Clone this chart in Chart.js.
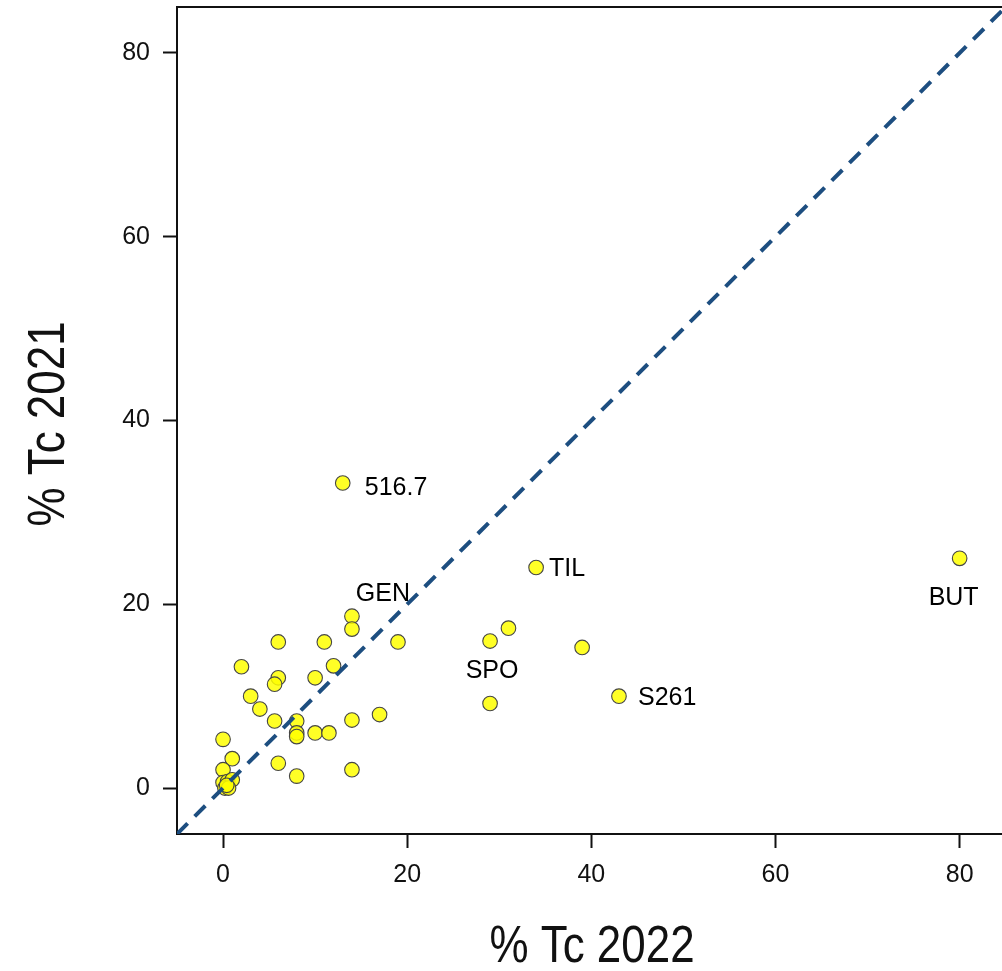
<!DOCTYPE html>
<html>
<head>
<meta charset="utf-8">
<title>% Tc 2022 vs 2021</title>
<script src="https://cdn.jsdelivr.net/npm/chart.js@4.4.1/dist/chart.umd.min.js"></script>
<style>
  body { margin: 0; background: #ffffff; }
  #wrap { width: 1002px; height: 971px; }
</style>
</head>
<body>
<div id="wrap"><canvas id="myTcChart" width="1002" height="971"></canvas></div>
<script>
  "use strict";

  // point names ("" = no label)
  var names = ["516.7", "TIL", "BUT", "SPO", "S261", "GEN",
    "", "", "", "", "", "", "", "", "", "", "", "", "", "", "", "", "", "", "", "", "", "", "", "", "", "", "", "",
    "", "", "", "", "", ""];
  // % Tc 2022 (x)
  var tc2022 = [13, 34, 80, 29, 43, 14,
    31, 39, 29, 14, 6, 11, 19, 2, 12, 6, 5.6, 10, 3, 4, 5.6, 8, 8, 8, 10, 11.5, 14, 17, 0, 1, 0, 6, 8, 14,
    0, 0.5, 1, 0.2, 0.6, 0.4];
  // % Tc 2021 (y)
  var tc2021 = [33.2, 24, 25, 16, 10, 18.7,
    17.4, 15.3, 9.2, 17.3, 15.9, 15.9, 15.9, 13.2, 13.3, 12, 11.3, 12, 10, 8.6, 7.3, 7.3, 6, 5.6, 6, 6, 7.4, 8, 5.3, 3.2, 2, 2.7, 1.3, 2,
    0.6, 0.7, 0.9, 0, 0, 0.3];

  var tickValues = [0, 20, 40, 60, 80];
  var identityLine = [-5, 85];
  var xTitle = "% Tc 2022";
  var yTitle = "% Tc 2021";

  var points = tc2022.map(function (x, i) {
    return { x: x, y: tc2021[i], name: names[i] };
  });

  // where each label sits relative to its point
  var labelPos = {
    "516.7": { dx: 22, dy: 5, align: "left" },
    "TIL": { dx: 13, dy: 2, align: "left" },
    "BUT": { dx: -6, dy: 40, align: "center" },
    "SPO": { dx: 2, dy: 30, align: "center" },
    "S261": { dx: 19, dy: 2, align: "left" },
    "GEN": { dx: 31, dy: -22, align: "center" }
  };

  var pointLabels = {
    id: "pointLabels",
    afterDatasetsDraw: function (chart) {
      var ctx = chart.ctx;
      var meta = chart.getDatasetMeta(1);
      ctx.save();
      ctx.font = "25px 'Liberation Sans', Arial, sans-serif";
      ctx.fillStyle = "#000000";
      ctx.textBaseline = "middle";
      meta.data.forEach(function (el, i) {
        var name = points[i].name;
        if (!name) return;
        var p = labelPos[name];
        ctx.textAlign = p.align;
        ctx.fillText(name, el.x + p.dx, el.y + p.dy);
      });
      ctx.restore();
    }
  };

  // top edge of the box + the condensed axis titles
  var frameAndTitles = {
    id: "frameAndTitles",
    afterDraw: function (chart) {
      var a = chart.chartArea;
      var ctx = chart.ctx;
      ctx.save();
      ctx.strokeStyle = "#111111";
      ctx.lineWidth = 2;
      ctx.beginPath();
      ctx.moveTo(a.left - 1, a.top);
      ctx.lineTo(a.right, a.top);
      ctx.stroke();

      ctx.fillStyle = "#111111";
      ctx.font = "52px 'Liberation Sans', Arial, sans-serif";
      ctx.textAlign = "center";
      ctx.textBaseline = "alphabetic";

      ctx.save();
      ctx.translate(592, 962);
      ctx.scale(0.845, 1);
      ctx.fillText(xTitle, 0, 0);
      ctx.restore();

      ctx.save();
      ctx.translate(64, 424);
      ctx.rotate(-Math.PI / 2);
      ctx.scale(0.845, 1);
      ctx.fillText(yTitle, 0, 0);
      ctx.restore();

      ctx.restore();
    }
  };

  var noPadding = function (scale) {
    scale.paddingTop = 0;
    scale.paddingBottom = 0;
    scale.paddingLeft = 0;
    scale.paddingRight = 0;
  };

  var ctx = document.getElementById("myTcChart").getContext("2d");
  var myChart = new Chart(ctx, {
    type: "scatter",
    data: {
      datasets: [
        {
          type: "line",
          data: identityLine.map(function (v) { return { x: v, y: v }; }),
          borderColor: "#1d4e80",
          borderWidth: 4,
          borderDash: [15, 10],
          pointRadius: 0,
          fill: false,
          order: 0
        },
        {
          data: points,
          backgroundColor: "rgba(255, 255, 0, 0.85)",
          borderColor: "#454545",
          borderWidth: 1.1,
          pointRadius: 7.3,
          pointHoverRadius: 7.3,
          order: 1
        }
      ]
    },
    options: {
      responsive: false,
      animation: false,
      layout: { autoPadding: false, padding: { top: 7, right: 0, bottom: 0, left: 0 } },
      plugins: {
        legend: { display: false },
        tooltip: { enabled: false }
      },
      scales: {
        x: {
          type: "linear",
          min: -5,
          max: 84.6,
          afterFit: function (scale) { scale.height = 137; noPadding(scale); },
          afterBuildTicks: function (scale) {
            scale.ticks = tickValues.map(function (v) { return { value: v }; });
          },
          border: { display: true, color: "#111111", width: 2 },
          grid: { drawOnChartArea: false, drawTicks: true, tickLength: 14, tickWidth: 2, tickColor: "#111111" },
          ticks: {
            padding: 12,
            color: "#111111",
            font: { family: "'Liberation Sans', Arial, sans-serif", size: 25 }
          }
        },
        y: {
          type: "linear",
          min: -5,
          max: 85,
          afterFit: function (scale) { scale.width = 177; noPadding(scale); },
          afterBuildTicks: function (scale) {
            scale.ticks = tickValues.map(function (v) { return { value: v }; });
          },
          border: { display: true, color: "#111111", width: 2 },
          grid: { drawOnChartArea: false, drawTicks: true, tickLength: 14, tickWidth: 2, tickColor: "#111111" },
          ticks: {
            padding: 13,
            color: "#111111",
            font: { family: "'Liberation Sans', Arial, sans-serif", size: 25 }
          }
        }
      }
    },
    plugins: [pointLabels, frameAndTitles]
  });
</script>
</body>
</html>
